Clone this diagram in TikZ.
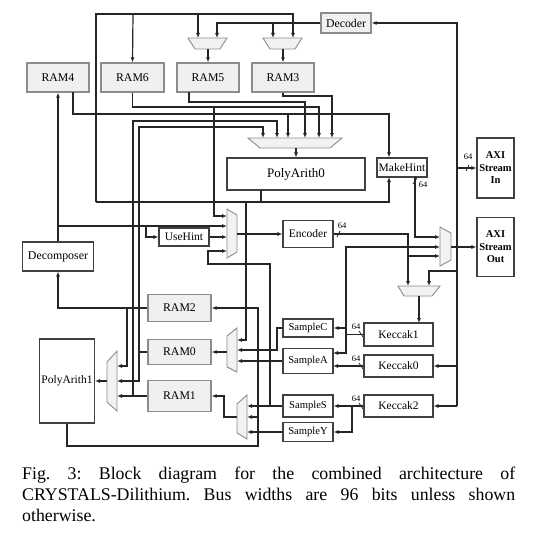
\documentclass[tikz,border=0pt]{standalone}
\usepackage{fontspec}
\setmainfont{Liberation Serif}
\usetikzlibrary{arrows.meta}
\frenchspacing
\begin{document}
\begin{tikzpicture}[x=1pt,y=-1pt,
  >={Latex[length=5pt,width=4pt]},
  wire/.style={draw=black!85,line width=1.2pt},
  aw/.style={wire,->},
  bx/.style={draw=black!75,line width=1.1pt,fill=white,inner sep=0pt,font=\fontsize{11.5}{12}\selectfont},
  ram/.style={draw=black!45,line width=1.2pt,fill=black!6,inner sep=0pt,font=\fontsize{11.8}{12}\selectfont},
  smp/.style={bx,font=\fontsize{10.6}{12}\selectfont},
  mux/.style={draw=black!45,fill=black!5,line width=0.9pt},
  bwl/.style={font=\fontsize{8.5}{9}\selectfont,inner sep=0pt},
  sl/.style={draw=black!85,line width=0.7pt},
  axi/.style={bx,font=\bfseries\fontsize{10.5}{12.5}\selectfont,align=center}
]
\useasboundingbox (0,0) rectangle (534,535);

% ---------- blocks ----------
\node[ram,minimum width=62pt,minimum height=29pt] (ram4) at (58,77.5) {RAM4};
\node[ram,minimum width=63pt,minimum height=29pt] (ram6) at (132.5,77.5) {RAM6};
\node[ram,minimum width=62pt,minimum height=29pt] (ram5) at (208,77.5) {RAM5};
\node[ram,minimum width=62pt,minimum height=29pt] (ram3) at (283,77.5) {RAM3};
\node[ram,minimum width=50pt,minimum height=20pt] (dec) at (346,23) {Decoder};
\node[bx,minimum width=138pt,minimum height=32pt,font=\fontsize{13}{14}\selectfont] (pa0) at (296,174) {PolyArith0};
\node[bx,minimum width=50pt,minimum height=19pt] (mh) at (402,167.5) {MakeHint};
\node[axi,minimum width=37pt,minimum height=60pt] (axin) at (495.5,168) {AXI\\Stream\\In};
\node[axi,minimum width=37pt,minimum height=59pt] (axout) at (495.5,247) {AXI\\Stream\\Out};
\node[bx,minimum width=71pt,minimum height=29pt,font=\fontsize{11.9}{12}\selectfont] (decomp) at (58,256.5) {Decomposer};
\node[bx,minimum width=50pt,minimum height=18pt] (usehint) at (184,237) {UseHint};
\node[bx,minimum width=50pt,minimum height=27pt] (enc) at (308,234) {Encoder};
\node[ram,minimum width=63pt,minimum height=27pt] (ram2) at (179.5,308) {RAM2};
\node[ram,minimum width=63pt,minimum height=25pt] (ram0) at (179.5,352) {RAM0};
\node[ram,minimum width=63pt,minimum height=31pt] (ram1) at (179.5,396) {RAM1};
\node[bx,minimum width=55pt,minimum height=84pt,font=\fontsize{11.5}{12}\selectfont] (pa1) at (67,381) {PolyArith1};
\node[smp,minimum width=50pt,minimum height=18pt] (samc) at (308,328) {SampleC};
\node[smp,minimum width=50pt,minimum height=25pt] (sama) at (308,361) {SampleA};
\node[smp,minimum width=50pt,minimum height=22pt] (sams) at (308,406) {SampleS};
\node[smp,minimum width=50pt,minimum height=19pt] (samy) at (308,432) {SampleY};
\node[bx,minimum width=69pt,minimum height=23pt] (kec1) at (398.5,334.5) {Keccak1};
\node[bx,minimum width=69pt,minimum height=22pt] (kec0) at (398.5,366) {Keccak0};
\node[bx,minimum width=69pt,minimum height=22pt] (kec2) at (398.5,406) {Keccak2};

% ---------- multiplexers ----------
\draw[mux] (188,38) -- (227,38) -- (220,49) -- (195,49) -- cycle;
\coordinate (m5a) at (198,38); \coordinate (m5b) at (217,38); \coordinate (m5o) at (208,49);
\draw[mux] (263,38) -- (302,38) -- (295,49) -- (270,49) -- cycle;
\coordinate (m3a) at (273,38); \coordinate (m3b) at (293,38); \coordinate (m3o) at (283,49);
\draw[mux] (248,138) -- (342,138) -- (330,148) -- (260,148) -- cycle;
\coordinate (mb1) at (263,138); \coordinate (mb2) at (277,138); \coordinate (mb3) at (288,138);
\coordinate (mb4) at (305,138); \coordinate (mb5) at (319,138); \coordinate (mb6) at (332,138);
\coordinate (mbo) at (296,148);
\draw[mux] (227,209) -- (237,215) -- (237,252) -- (227,258) -- cycle;
\coordinate (mu1) at (227,216); \coordinate (mu2) at (227,226); \coordinate (mu3) at (227,237);
\coordinate (mu4) at (227,251); \coordinate (muo) at (237,234);
\draw[mux] (440,227) -- (451,233) -- (451,260) -- (440,266) -- cycle;
\coordinate (mout1) at (440,237); \coordinate (mout2) at (440,247); \coordinate (mout3) at (440,256);
\coordinate (mouto) at (451,247);
\draw[mux] (398,286) -- (440,286) -- (432,296) -- (404,296) -- cycle;
\coordinate (mk1) at (408,286); \coordinate (mk2) at (429,286); \coordinate (mko) at (419,296);
\draw[mux] (227,336) -- (237,328) -- (237,372) -- (227,367) -- cycle;
\coordinate (mr0a) at (237,340); \coordinate (mr0b) at (237,350); \coordinate (mr0c) at (237,361);
\coordinate (mr0o) at (227,352);
\draw[mux] (237,404) -- (247,395) -- (247,439) -- (237,433) -- cycle;
\coordinate (mr1a) at (247,406); \coordinate (mr1b) at (247,417); \coordinate (mr1c) at (247,432);
\coordinate (mr1o) at (237,417);
\draw[mux] (117,351) -- (117,411) -- (107,402) -- (107,362) -- cycle;
\coordinate (mp1a) at (117,366); \coordinate (mp1b) at (117,381); \coordinate (mp1c) at (117,396);
\coordinate (mp1o) at (107,381);

% ---------- PolyArith0 result loop ----------
\draw[wire,line width=2pt] (261,190) -- (261,202);
\draw[aw] (96,202) -- (96,14) -- (293,14) -- (m3b);
\draw[aw] (133,14) -- (ram6.north);
\draw[aw] (198,14) -- (m5a);
\draw[aw] (96,202) -- (389,202) -- (389,177);
\draw[aw] (246,202) -- (246,340) -- (mr0a);

% ---------- decoder ----------
\draw[aw] (dec.west) -- (217,23) -- (m5b);
\draw[aw] (273,23) -- (m3a);
\draw[aw] (m5o) -- (ram5.north);
\draw[aw] (m3o) -- (ram3.north);

% ---------- RAM outputs to big mux ----------
\draw[aw] (ram6.south) -- (132.5,107) -- (319,107) -- (mb5);
\draw[aw] (214,107) -- (214,216) -- (mu1);
\draw[aw] (73,92) -- (73,114) -- (389,114) -- (mh.north -| 389,0);
\draw[aw] (288,114) -- (mb3);
\draw[aw] (189,92) -- (189,102) -- (305,102) -- (mb4);
\draw[aw] (ram3.south) -- (283,96) -- (332,96) -- (mb6);
\draw[aw] (ram1.west) -- (mp1c);
\draw[aw] (133,396) -- (133,121) -- (277,121) -- (mb2);
\draw[aw] (ram0.west) -- (139,352) -- (139,381) -- (mp1b);
\draw[aw] (139,352) -- (139,127) -- (263,127) -- (mb1);
\draw[aw] (ram2.west) -- (58,308) -- (decomp.south);
\draw[aw] (127,308) -- (127,366) -- (mp1a);
\draw[aw] (mbo) -- (pa0.north);
\draw[aw] (mp1o) -- (pa1.east);
\draw[aw] (pa1.south) -- (67,446) -- (258,446) -- (258,308) -- (ram2.east);
\draw[aw] (258,417) -- (mr1b);

% ---------- Decomposer / UseHint / Encoder ----------
\draw[aw] (decomp.north) -- (ram4.south);
\draw[aw] (58,226) -- (mu2);
\draw[aw] (146,226) -- (146,237) -- (usehint.west);
\draw[aw] (usehint.east) -- (mu3);
\draw[aw] (sams.west) -- (mr1a);
\draw[aw] (270,406) -- (270,264) -- (208,264) -- (208,251) -- (mu4);
\draw[aw] (muo) -- (enc.west);
\draw[aw] (enc.east) -- (408,234) -- (mk1);
\draw[aw] (408,256) -- (mout3);
\draw[aw] (415,177) -- (415,237) -- (mout1);
\draw[aw] (mouto) -- (axout.west);

% ---------- AXI input bus ----------
\draw[aw] (457,406) -- (457,23) -- (dec.east);
\draw[aw] (457,168) -- (axin.west);
\draw[aw] (457,271) -- (429,271) -- (mk2);
\draw[aw] (457,366) -- (kec0.east);
\draw[aw] (457,406) -- (kec2.east);
\draw[aw] (mko) -- (419,323);

% ---------- Keccak to samplers ----------
\draw[wire] (kec1.west) -- (346,334.5);
\draw[aw] (346,334.5) -- (346,247) -- (mout2);
\draw[aw] (346,328) -- (samc.east);
\draw[aw] (346,334.5) -- (346,353) -- (333,353);
\draw[aw] (kec0.west) -- (333,366);
\draw[aw] (kec2.west) -- (sams.east);
\draw[aw] (352,406) -- (352,432) -- (samy.east);
\draw[aw] (samc.west) -- (277,328) -- (277,350) -- (mr0b);
\draw[aw] (sama.west) -- (mr0c);
\draw[aw] (samy.west) -- (mr1c);
\draw[aw] (mr0o) -- (ram0.east);
\draw[aw] (mr1o) -- (224,417) -- (224,396) -- (ram1.east);

% ---------- bus width marks ----------
\draw[sl] (466,171) -- (469,165); \node[bwl] (w1) at (468,157) {64};
\draw[sl] (337,237) -- (340,231); \node[bwl] (w2) at (342,226) {64};
\draw[sl] (413,184) -- (417,178); \node[bwl] (w3) at (423,185) {64};
\draw[sl] (359,331) -- (363,337); \node[bwl] (w4) at (356,327) {64};
\draw[sl] (359,363) -- (363,369); \node[bwl] (w5) at (356,359) {64};
\draw[sl] (359,403) -- (363,409); \node[bwl] (w6) at (356,399) {64};

% ---------- caption ----------
\node[anchor=base west,inner sep=0pt,font=\fontsize{17.8}{21}\selectfont] (cap1) at (22,479)
  {\makebox[493pt][s]{Fig. 3: Block diagram for the combined architecture of}};
\node[anchor=base west,inner sep=0pt,font=\fontsize{17.8}{21}\selectfont] (cap2) at (22,500)
  {\makebox[493pt][s]{CRYSTALS-Dilithium. Bus widths are 96 bits unless shown}};
\node[anchor=base west,inner sep=0pt,font=\fontsize{17.8}{21}\selectfont] (cap3) at (22,521)
  {otherwise.};
\end{tikzpicture}
\end{document}
